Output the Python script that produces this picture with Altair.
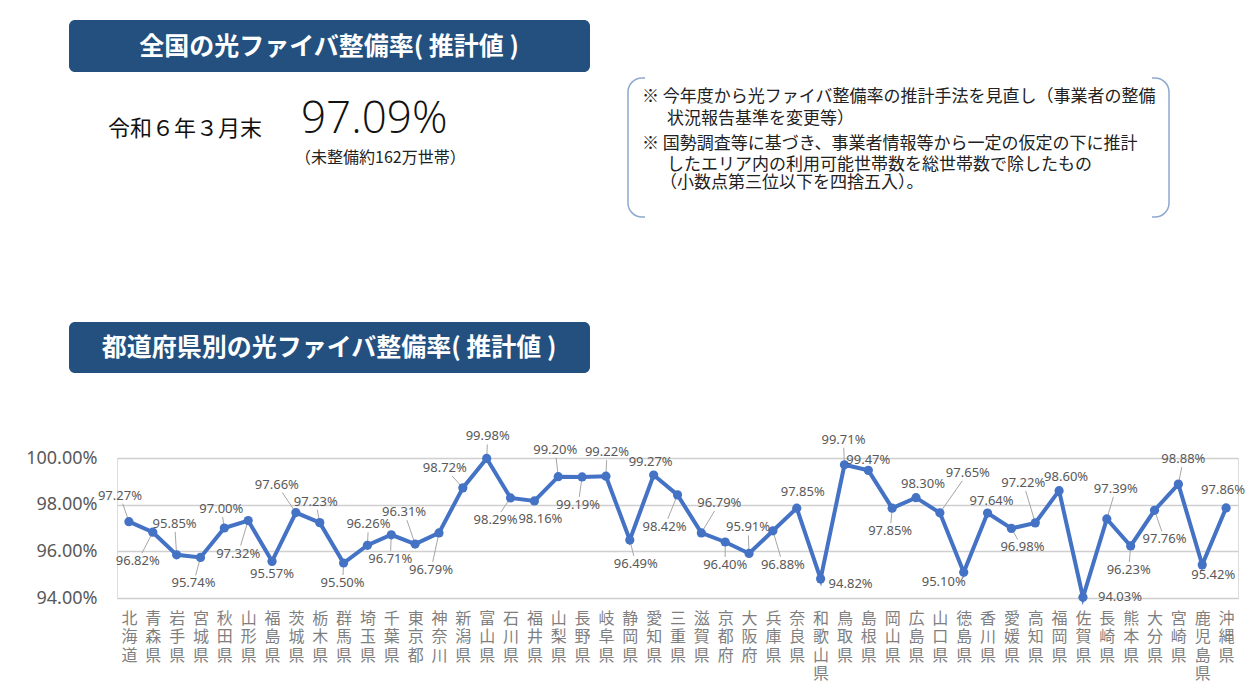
import json
import altair as alt
import pandas as pd

# ---------------- data ----------------
PREFS = ["北海道", "青森県", "岩手県", "宮城県", "秋田県", "山形県", "福島県", "茨城県",
         "栃木県", "群馬県", "埼玉県", "千葉県", "東京都", "神奈川", "新潟県", "富山県",
         "石川県", "福井県", "山梨県", "長野県", "岐阜県", "静岡県", "愛知県", "三重県",
         "滋賀県", "京都府", "大阪府", "兵庫県", "奈良県", "和歌山県", "鳥取県", "島根県",
         "岡山県", "広島県", "山口県", "徳島県", "香川県", "愛媛県", "高知県", "福岡県",
         "佐賀県", "長崎県", "熊本県", "大分県", "宮崎県", "鹿児島県", "沖縄県"]
RATES = [97.27, 96.82, 95.85, 95.74, 97.00, 97.32, 95.57, 97.66,
         97.23, 95.50, 96.26, 96.71, 96.31, 96.79, 98.72, 99.98,
         98.29, 98.16, 99.20, 99.19, 99.22, 96.49, 99.27, 98.42,
         96.79, 96.40, 95.91, 96.88, 97.85, 94.82, 99.71, 99.47,
         97.85, 98.30, 97.65, 95.10, 97.64, 96.98, 97.22, 98.60,
         94.03, 97.39, 96.23, 97.76, 98.88, 95.42, 97.86]
Y_TICKS = [94, 96, 98, 100]

# data-label placement (pixel offsets from each point; styling only)
LABEL_DX = [-9, -15, -2, -7, -3, -10, 0, -19, -4, -1, 1, -1, -11, -8, -18, 1,
            -15, 6, -3, -4, 1, 6, -3, -13, 18, 0, -1, 10, 6, 30, -1, 0,
            -2, 7, 28, -20, 4, 11, -12, 7, 37, 9, -2, 10, 5, 11, -3]
LABEL_DY = [-26, 29, -31, 26, -19, 33, 13, -28, -21, 20, -21, 24, -32, 37, -20, -22,
            22, 18, -27, 28, -24, 24, -13, 32, -30, 23, -26, 34, -16, 5, -25, -10,
            23, -14, -40, 10, -12, 19, -40, -14, 0, -30, 24, 29, -25, 10, -18]

TITLE_NATIONAL = "全国の光ファイバ整備率( 推計値 )"
TITLE_PREF = "都道府県別の光ファイバ整備率( 推計値 )"
DATE_TEXT = "令和６年３月末"
NATIONAL_RATE = "97.09%"
UNSERVED = "（未整備約162万世帯）"
NOTE_LINES = [
    "※ 今年度から光ファイバ整備率の推計手法を見直し（事業者の整備",
    "状況報告基準を変更等）",
    "※ 国勢調査等に基づき、事業者情報等から一定の仮定の下に推計",
    "したエリア内の利用可能世帯数を総世帯数で除したもの",
    "（小数点第三位以下を四捨五入）。",
]

# ---------------- layout ----------------
W, H = 1121, 140
N = len(PREFS)
PX_CAT = W / N
PX_PCT = H / (Y_TICKS[-1] - Y_TICKS[0])

JP = "Noto Sans CJK JP"
BLUE = "#4472c4"
NAVY = "#23507f"
GRAY = "#595959"

df = pd.DataFrame({"idx": list(range(N)), "pref": PREFS, "rate": RATES,
                   "dx": LABEL_DX, "dy": LABEL_DY})
df["label"] = df["rate"].map(lambda v: f"{v:.2f}%")
df["lx"] = df["idx"] + df["dx"] / PX_CAT
df["ly"] = df["rate"] - df["dy"] / PX_PCT
k = ((df["dy"].abs() - 8) / df["dy"].abs().clip(lower=1)).clip(lower=0)
df["ex"] = df["idx"] + df["dx"] * k / PX_CAT
df["ey"] = df["rate"] - df["dy"] * k / PX_PCT
leaders = df[df["dy"].abs() >= 19]

xq = alt.Scale(domain=[-0.5, N - 0.5], nice=False, zero=False)
y_scale = alt.Scale(domain=[Y_TICKS[0], Y_TICKS[-1]], nice=False, zero=False)

x_axis = alt.Axis(labelExpr="split(datum.label, '')",
                  labelAngle=0, labelFont=JP, labelFontSize=16, labelColor="#7f7f7f",
                  labelLineHeight=18.5, labelPadding=12, labelOverlap=False,
                  labelBaseline="top", domain=False, ticks=False, grid=False, title=None)
y_axis = alt.Axis(values=Y_TICKS, labelExpr="format(datum.value, '.2f') + '%'",
                  labelFont="Noto Sans", labelFontSize=18, labelColor=GRAY,
                  labelPadding=20, domain=False, ticks=False, grid=True,
                  gridColor="#cfcfcf", gridWidth=1.5, title=None)

base = alt.Chart(df)

line = base.mark_line(color=BLUE, strokeWidth=4).encode(
    x=alt.X("pref:N", sort=PREFS, scale=alt.Scale(type="point", padding=0.5),
            axis=x_axis),
    y=alt.Y("rate:Q", scale=y_scale, axis=y_axis),
)
points = base.mark_circle(color=BLUE, size=85, opacity=1).encode(
    x=alt.X("idx:Q", scale=xq, axis=None),
    y=alt.Y("rate:Q", scale=y_scale),
)
lead = alt.Chart(leaders).mark_rule(color="#a6a6a6", strokeWidth=1).encode(
    x=alt.X("idx:Q", scale=xq, axis=None), x2="ex:Q",
    y=alt.Y("rate:Q", scale=y_scale), y2="ey:Q",
)
labels = base.mark_text(font="Noto Sans", fontSize=13, color=GRAY,
                        align="center", baseline="middle").encode(
    x=alt.X("lx:Q", scale=xq, axis=None),
    y=alt.Y("ly:Q", scale=y_scale),
    text="label:N",
)


def box(x0, x1, y0, y1, **kw):
    return alt.Chart(pd.DataFrame({"k": [0]})).mark_rect(**kw).encode(
        x=alt.value(x0), x2=alt.value(x1), y=alt.value(y0), y2=alt.value(y1))


def txt(s, x, y, **kw):
    return alt.Chart(pd.DataFrame({"t": [s]})).mark_text(**kw).encode(
        x=alt.value(x), y=alt.value(y), text="t:N")


# plot origin is at page (117, 458)
anno = [
    box(-48, 473, -438, -386, color=NAVY, cornerRadius=6),
    txt(TITLE_NATIONAL, 212, -411, font=JP, fontSize=25, fontWeight="bold",
        color="white", align="center", baseline="middle"),
    txt(DATE_TEXT, -9, -329, font=JP, fontSize=22, color="#111111",
        align="left", baseline="middle"),
    txt(NATIONAL_RATE, 184, -338, font="Open Sans", fontSize=44, fontWeight=300,
        color="#111111", align="left", baseline="middle"),
    txt(UNSERVED, 178, -300, font=JP, fontSize=16, color="#222222",
        align="left", baseline="middle"),
    box(511, 1052, -380, -241, fillOpacity=0, stroke="#8fa9cf", strokeWidth=1.5,
        cornerRadius=14),
    box(528, 1035, -384, -376, color="white"),
    box(528, 1035, -245, -237, color="white"),
    box(-48, 473, -136, -85, color=NAVY, cornerRadius=6),
    txt(TITLE_PREF, 212, -110, font=JP, fontSize=25, fontWeight="bold",
        color="white", align="center", baseline="middle"),
]
note_pos = [(525, -361), (550, -339), (525, -314), (550, -293), (543, -275)]
for s, (nx, ny) in zip(NOTE_LINES, note_pos):
    anno.append(txt(s, nx, ny, font=JP, fontSize=17, color="#222222",
                    align="left", baseline="middle"))

chart = alt.layer(*anno, lead, line, points, labels).resolve_scale(
    x="independent"
).resolve_axis(x="independent").properties(
    width=W, height=H,
    padding={"left": 109, "top": 450, "right": 7, "bottom": 88},
    autosize=alt.AutoSizeParams(type="none"),
).configure_view(stroke=None).configure(background="white")

chart.save("out.html", embed_options={"renderer": "svg", "actions": False})
